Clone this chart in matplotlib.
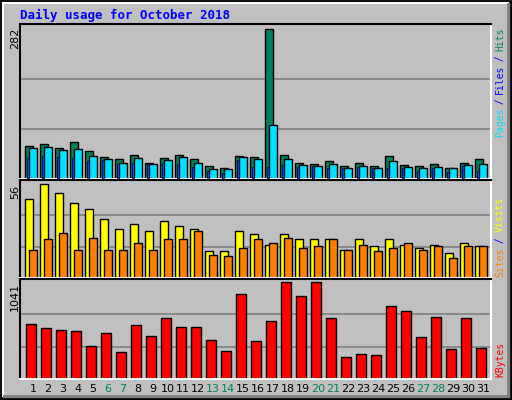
import matplotlib
matplotlib.use("Agg")
import matplotlib.pyplot as plt
import numpy as np

days = list(range(1, 32))
hits = [63,65,58,69,52,41,37,46,31,39,46,37,24,20,44,42,282,46,31,29,33,24,31,24,44,27,25,29,21,31,37]
files = [58,60,54,56,44,37,31,39,29,35,41,31,18,18,42,37,102,37,27,24,29,20,25,20,33,22,20,22,20,27,29]
pages = [39,44,41,39,33,35,29,31,29,31,29,22,16,12,35,22,22,27,22,24,20,20,22,20,20,20,16,20,14,24,16]
visits = [47,56,51,45,41,35,29,32,28,34,31,29,16,16,28,26,20,26,23,23,23,17,23,19,23,20,18,20,15,21,19]
sites = [17,23,27,17,24,17,17,21,17,23,23,28,14,13,18,23,21,24,18,19,23,17,20,16,18,21,17,19,12,19,19]
kbytes = [595,549,526,515,355,492,286,583,458,652,560,560,423,297,915,412,618,1041,892,1041,652,240,263,252,778,732,446,663,320,652,332]
weekend = [6,7,13,14,20,21,27,28]
title = "Daily usage for October 2018"

W, H = 512, 400
fig = plt.figure(figsize=(W/100, H/100), dpi=100)
fig.patch.set_facecolor("#c0c0c0")
mono = "DejaVu Sans Mono"

bg = fig.add_axes([0, 0, 1, 1]); bg.set_xlim(0, W); bg.set_ylim(H, 0); bg.axis("off")
bg.plot([1, W-1, W-1, 1, 1], [1, 1, H-1, H-1, 1], color="black", lw=2)
bg.plot([3, W-4], [3, 3], color="white", lw=1.5); bg.plot([3, 3], [3, H-4], color="white", lw=1.5)
bg.plot([4, W-4], [H-4, H-4], color="#808080", lw=2); bg.plot([W-4, W-4], [4, H-4], color="#808080", lw=2)

def ax_px(x0, y0, x1, y1):
    return fig.add_axes([x0/W, 1-y1/H, (x1-x0)/W, (y1-y0)/H])

xl = (0.297, 31.697)
d = np.array(days)

def style(ax, ymax, top):
    ax.set_facecolor("#c0c0c0")
    ax.set_xlim(*xl); ax.set_ylim(0, ymax*top)
    for g in (ymax/3, 2*ymax/3):
        ax.axhline(g, color="#808080", lw=1.2, zorder=0)
    ax.set_xticks([]); ax.set_yticks([])
    for s in ("left", "top"):
        ax.spines[s].set_color("black"); ax.spines[s].set_linewidth(1.5)
    for s in ("right", "bottom"):
        ax.spines[s].set_color("white"); ax.spines[s].set_linewidth(1.5)

a1 = ax_px(20, 24, 491, 179)
style(a1, 282, 1.035)
kw = dict(edgecolor="black", linewidth=1, align="edge")
a1.bar(d-0.35, hits, 0.49, color="#00805c", **kw)
a1.bar(d-0.24, pages, 0.12, color="#0040ff", edgecolor="black", linewidth=0.5, align="edge", zorder=3)
a1.bar(d-0.1, files, 0.5, color="#00e0ff", **kw)

a2 = ax_px(20, 180, 491, 278)
style(a2, 56, 1.045)
a2.bar(d-0.35, visits, 0.49, color="#ffff00", **kw)
a2.bar(d-0.1, sites, 0.5, color="#ff8000", **kw)

a3 = ax_px(20, 279, 491, 379)
style(a3, 1041, 1.03)
a3.bar(d-0.27, kbytes, 0.63, color="#ff0000", **kw)

for dd in days:
    bg.text(20 + (dd - xl[0]) * 15 + 2.4, 389, str(dd), ha="center", va="center",
            fontsize=8, family="DejaVu Sans",
            color="#00805c" if dd in weekend else "black")

bg.text(20, 15, title, fontsize=9, fontweight="bold", color="#0000ff", family=mono, va="center")
for y, t in ((38, "282"), (192, "56"), (297, "1041")):
    bg.text(15, y, t, rotation=90, fontsize=8, family="DejaVu Sans", ha="center", va="center")

def rlabel(y_bottom, parts, step):
    y = y_bottom
    for txt, col in parts:
        bg.text(500, y, txt, rotation=90, fontsize=7, family=mono, color=col,
                ha="center", va="bottom")
        y -= len(txt) * step

rlabel(137, [("Pages", "#00e0ff"), (" / ", "#0000ff"), ("Files", "#0000ff"), (" / ", "#0000ff"), ("Hits", "#00805c")], 5.35)
rlabel(277, [("Sites", "#ff8000"), (" / ", "#0000ff"), ("Visits", "#ffff00")], 5.6)
rlabel(377, [("KBytes", "#ff0000")], 5.6)

fig.savefig("out.png", dpi=100, facecolor=fig.get_facecolor())
